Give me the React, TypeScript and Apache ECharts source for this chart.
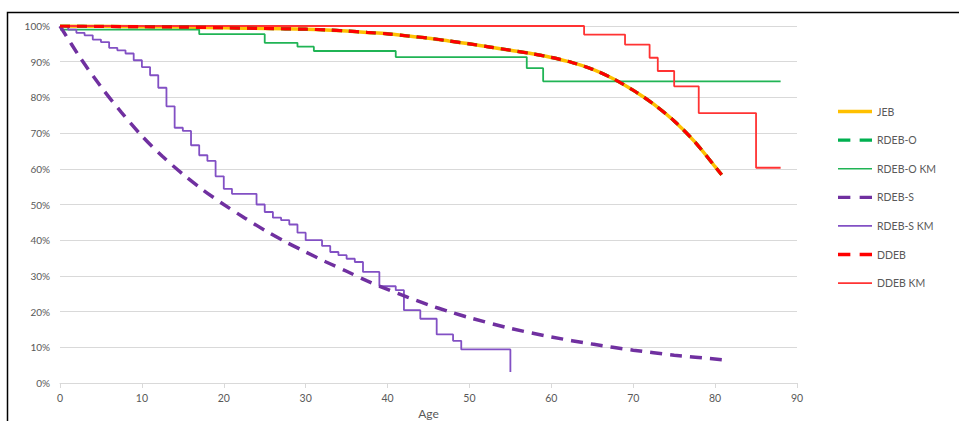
import React, { useEffect, useRef } from "react";
import * as echarts from "echarts";

// Modelled survival curves (age in years, survival in %)
const modelAges = [0, 5, 10, 15, 20, 25, 30, 32.5, 35, 37.5, 40, 42.5, 45, 47.5, 50, 52.5, 55, 57.5, 60, 62.5, 65, 67.5, 70, 72.5, 75, 77.5, 80, 80.8];
const jebSurvival = [100, 99.9, 99.8, 99.7, 99.5, 99.3, 99.1, 98.9, 98.6, 98.2, 97.8, 97.2, 96.6, 95.8, 95.0, 94.1, 93.2, 92.3, 91.2, 89.8, 87.9, 85.3, 82.0, 78.1, 73.4, 67.6, 60.6, 58.3];
const rdebOSurvival = [100, 99.9, 99.8, 99.7, 99.5, 99.3, 99.1, 98.9, 98.6, 98.2, 97.8, 97.2, 96.6, 95.8, 95.0, 94.1, 93.2, 92.3, 91.2, 89.8, 87.9, 85.3, 82.0, 78.1, 73.4, 67.6, 60.6, 58.3];
const ddebSurvival = [100, 99.9, 99.8, 99.7, 99.5, 99.3, 99.1, 98.9, 98.6, 98.2, 97.8, 97.2, 96.6, 95.8, 95.0, 94.1, 93.2, 92.3, 91.2, 89.8, 87.9, 85.3, 82.0, 78.1, 73.4, 67.6, 60.6, 58.3];

const rdebSAges = [0, 2.5, 5, 7.5, 10, 12.5, 15, 17.5, 20, 22.5, 25, 27.5, 30, 32.5, 35, 37.5, 40, 42.5, 45, 47.5, 50, 55, 60, 65, 70, 75, 81];
const rdebSSurvival = [100, 91, 83, 75.8, 69.2, 63.5, 58.5, 54, 50, 46.3, 42.8, 39.6, 36.7, 33.9, 31.3, 28.6, 26.2, 24.0, 21.9, 20.0, 18.3, 15.3, 12.9, 10.9, 9.2, 7.8, 6.5];

// Kaplan-Meier estimates
const rdebOKmAges = [0, 17, 25, 29, 31, 41, 57, 59, 88];
const rdebOKmSurvival = [99.0, 97.7, 95.3, 94.2, 93.0, 91.3, 88.2, 84.5, 84.5];

const rdebSKmAges = [0, 1, 2, 3, 4, 5, 6, 7, 8, 9, 10, 11, 12, 13, 14, 15, 16, 17, 18, 19, 20, 21, 24, 25, 26, 27, 28, 29, 30, 32, 33, 34, 35, 36, 37, 39, 41, 42, 44, 46, 48, 49, 55];
const rdebSKmSurvival = [100, 99.0, 98.1, 97.4, 96.2, 95.5, 93.9, 93.2, 92.3, 90.4, 88.5, 86.2, 82.7, 77.5, 71.5, 70.6, 66.6, 63.8, 62.2, 57.9, 54.4, 53.0, 50.0, 47.9, 46.3, 45.6, 44.4, 42.1, 40.0, 38.4, 36.7, 35.8, 34.8, 33.9, 31.1, 27.1, 26.0, 20.4, 18.0, 13.6, 11.8, 9.4, 3.1];

const ddebKmAges = [0, 64, 69, 72, 73, 75, 78, 85, 88];
const ddebKmSurvival = [100, 97.6, 94.8, 91.1, 87.4, 83.1, 75.6, 60.3, 60.3];

const legendNames = ["JEB", "RDEB-O", "RDEB-O KM", "RDEB-S", "RDEB-S KM", "DDEB", "DDEB KM"];

const zip = (xs: number[], ys: number[]) => xs.map((x, i) => [x, ys[i]]);

const ICON_SOLID_THICK = "path://M0,0H33V3.2H0Z";
const ICON_SOLID_THIN = "path://M0,0H33V1.6H0Z";
const ICON_DASHED = "path://M0,0H12V3.2H0Z M21,0H33V3.2H21Z";

export default function App() {
  const ref = useRef<HTMLDivElement>(null);
  useEffect(() => {
    if (!ref.current) return;
    const chart = echarts.init(ref.current, undefined, { renderer: "svg" });
    const font = "Lato, 'Open Sans', sans-serif";
    const grey = "#595959";
    const icons: Record<string, string> = {
      JEB: ICON_SOLID_THICK,
      "RDEB-O": ICON_DASHED,
      "RDEB-O KM": ICON_SOLID_THIN,
      "RDEB-S": ICON_DASHED,
      "RDEB-S KM": ICON_SOLID_THIN,
      DDEB: ICON_DASHED,
      "DDEB KM": ICON_SOLID_THIN,
    };
    chart.setOption({
      animation: false,
      backgroundColor: "#ffffff",
      grid: { left: 60, right: 162, top: 26, bottom: 38, outerBoundsMode: "none", containLabel: false },
      xAxis: {
        type: "value",
        min: 0,
        max: 90,
        interval: 10,
        name: "Age",
        nameLocation: "middle",
        nameGap: 23,
        nameTextStyle: { color: grey, fontSize: 12, fontFamily: font },
        axisLine: { show: true, lineStyle: { color: "#D9D9D9", width: 1 } },
        axisTick: { show: true, length: 5, lineStyle: { color: "#D9D9D9" } },
        axisLabel: { color: grey, fontSize: 10.5, fontFamily: font, margin: 9 },
        splitLine: { show: false },
      },
      yAxis: {
        type: "value",
        min: 0,
        max: 100,
        interval: 10,
        axisLine: { show: false },
        axisTick: { show: false },
        axisLabel: { color: grey, fontSize: 10, fontFamily: font, margin: 10, formatter: "{value}%" },
        splitLine: { show: true, lineStyle: { color: "#D9D9D9", width: 1 } },
      },
      legend: {
        orient: "vertical",
        left: 833,
        top: 99.5,
        itemWidth: 34,
        itemHeight: 14,
        itemGap: 14.6,
        symbolKeepAspect: true,
        data: legendNames.map((n) => ({ name: n, icon: icons[n] })),
        textStyle: { color: grey, fontSize: 10.5, fontFamily: font, lineHeight: 14 },
      },
      series: [
        {
          name: "JEB",
          type: "line",
          symbol: "none",
          smooth: 0.3,
          z: 2,
          data: zip(modelAges, jebSurvival),
          lineStyle: { color: "#FFC000", width: 3.5 },
          itemStyle: { color: "#FFC000" },
        },
        {
          name: "RDEB-O",
          type: "line",
          symbol: "none",
          smooth: 0.3,
          z: 3,
          data: zip(modelAges, rdebOSurvival),
          lineStyle: { color: "#00B050", width: 3.2, type: [10, 7] },
          itemStyle: { color: "#00B050" },
        },
        {
          name: "RDEB-O KM",
          type: "line",
          symbol: "none",
          step: "end",
          z: 2,
          data: zip(rdebOKmAges, rdebOKmSurvival),
          lineStyle: { color: "#20B455", width: 1.8 },
          itemStyle: { color: "#20B455" },
        },
        {
          name: "RDEB-S",
          type: "line",
          symbol: "none",
          smooth: 0.3,
          z: 3,
          data: zip(rdebSAges, rdebSSurvival),
          lineStyle: { color: "#7030A0", width: 3.5, type: [12, 8] },
          itemStyle: { color: "#7030A0" },
        },
        {
          name: "RDEB-S KM",
          type: "line",
          symbol: "none",
          step: "end",
          z: 2,
          data: zip(rdebSKmAges, rdebSKmSurvival),
          lineStyle: { color: "#8250C4", width: 1.8 },
          itemStyle: { color: "#8250C4" },
        },
        {
          name: "DDEB",
          type: "line",
          symbol: "none",
          smooth: 0.3,
          z: 4,
          data: zip(modelAges, ddebSurvival),
          lineStyle: { color: "#FF0000", width: 3.2, type: [10, 7] },
          itemStyle: { color: "#FF0000" },
        },
        {
          name: "DDEB KM",
          type: "line",
          symbol: "none",
          step: "end",
          z: 2,
          data: zip(ddebKmAges, ddebKmSurvival),
          lineStyle: { color: "#FF3333", width: 1.8 },
          itemStyle: { color: "#FF3333" },
        },
      ],
      graphic: [
        {
          type: "polyline",
          silent: true,
          z: 100,
          shape: { points: [[965, 12.5], [7.5, 12.5], [7.5, 430]] },
          style: { stroke: "#000000", lineWidth: 1.5, fill: "none" },
        },
      ],
    });
    return () => chart.dispose();
  }, []);
  return (
    <div
      ref={ref}
      style={{ position: "absolute", left: 0, top: 0, width: 959, height: 421 }}
    />
  );
}
